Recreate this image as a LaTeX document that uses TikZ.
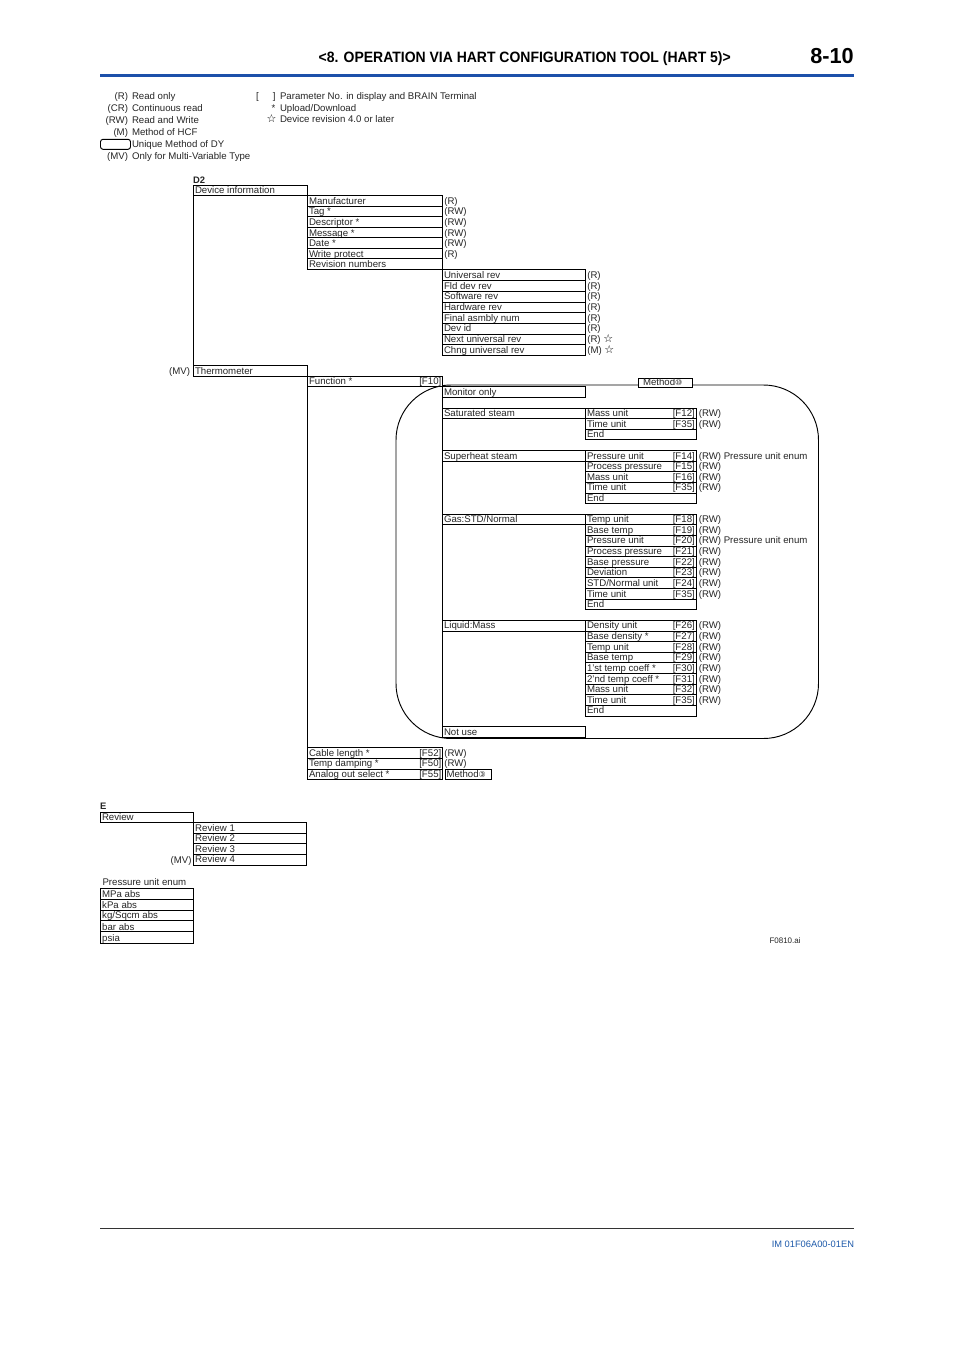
\documentclass[tikz,border=0pt]{standalone}
\usepackage{fontspec}
\setmainfont{Liberation Sans}
\newfontfamily\symfont{DejaVu Sans}
\definecolor{ruleblue}{RGB}{28,80,170}
\definecolor{imblue}{RGB}{30,90,170}
\newcommand\txt{\fontsize{9.65}{11}\selectfont}
\newcommand\starmark{{\symfont\fontsize{11}{10}\selectfont\color{black}☆}}
\newcommand\circnum[1]{{\symfont\fontsize{8}{10}\selectfont #1}}
\gdef\ty{0}
\gdef\ngap{1.8}
\newcommand\tdown{\gdef\ty{1}}
\newcommand\tlift{\gdef\ty{-1}}
% #1 name, #2 x1, #3 y1, #4 x2, #5 y2, #6 text, #7 tag, #8 note
\newcommand\cell[8]{%
  \node[cellbox,minimum width={(#4-#2)*1pt},minimum height={(#5-#3)*1pt}] (#1) at (#2,#3) {};
  \node[lbl] (#1-t) at (#2+1.5,#5-2.2+\ty) {#6};
  \if\relax\detokenize{#7}\relax\else\node[tag] (#1-f) at (#4-1.2,#5-2.2+\ty) {#7};\fi
  \if\relax\detokenize{#8}\relax\else\node[lbl] (#1-n) at (#4+\ngap,#5-2.2+\ty) {#8};\fi
  \gdef\ty{0}%
}
\begin{document}
\begin{tikzpicture}[x=1pt,y=-1pt,
  cellbox/.style={draw=black,line width=0.95pt,fill=white,rectangle,anchor=north west,inner sep=0pt,outer sep=0pt},
  lbl/.style={anchor=base west,inner sep=0pt,outer sep=0pt,font=\txt,text=black!85},
  tag/.style={anchor=base east,inner sep=0pt,outer sep=0pt,font=\txt,text=black!85},
  rule/.style={line width=0.95pt,black}]
\useasboundingbox (0,0) rectangle (954,1350);
\fill[white] (0,0) rectangle (954,1350);
% header
\node[anchor=base east,inner sep=0,xscale=0.932,font=\fontsize{15}{16}\selectfont\bfseries] (title) at (731,62) {<8. OPERATION VIA HART CONFIGURATION TOOL (HART 5)>};
\node[anchor=base east,inner sep=0,font=\fontsize{21.7}{24}\selectfont\bfseries] (pageno) at (854,63.5) {8-10};
\coordinate (bl1) at (100,75.3); \coordinate (br1) at (854,75.3);
\draw[ruleblue,line width=3pt] (bl1) -- (br1);
\coordinate (bl2) at (100,1228); \coordinate (br2) at (854,1228);
\draw[black!80,line width=0.7pt] (bl2) -- (br2);
\node[tag,font=\fontsize{9.3}{11}\selectfont,text=imblue] (docid) at (854,1247) {IM 01F06A00-01EN};
\node[lbl,font=\fontsize{8}{9}\selectfont] (fig) at (769.5,943) {F0810.ai};
% legend
\node[tag] (lg1) at (128,99.5) {(R)};   \node[lbl] (lg1t) at (132,99.5) {Read only};
\node[tag] (lg2) at (128,111.5) {(CR)}; \node[lbl] (lg2t) at (132,111.5) {Continuous read};
\node[tag] (lg3) at (128,123.5) {(RW)}; \node[lbl] (lg3t) at (132,123.5) {Read and Write};
\node[tag] (lg4) at (128,135.5) {(M)};  \node[lbl] (lg4t) at (132,135.5) {Method of HCF};
\node[draw=black,line width=0.95pt,rounded corners=2.5pt,anchor=north west,inner sep=0,outer sep=0,minimum width=30pt,minimum height=10pt] (lg5) at (100.5,139.3) {};
\node[lbl] (lg5t) at (132,147.5) {Unique Method of DY};
\node[tag] (lg6) at (128,159.5) {(MV)}; \node[lbl] (lg6t) at (132,159.5) {Only for Multi-Variable Type};
\node[lbl] (lr1a) at (256,99.5) {[};
\node[tag] (lr1b) at (275.5,99.5) {]};
\node[lbl] (lr1t) at (280,99.5) {Parameter No. in display and BRAIN Terminal};
\node[tag] (lr2) at (275.5,111) {*};
\node[lbl] (lr2t) at (280,111) {Upload/Download};
\node[tag] (lr3) at (276.5,122.5) {\starmark};
\node[lbl] (lr3t) at (280,122.5) {Device revision 4.0 or later};
% method region
\node[draw=black,line width=0.95pt,rounded corners=55pt,anchor=north west,inner sep=0,outer sep=0,minimum width=422.5pt,minimum height=353.5pt] (region) at (396,385) {};
% D2
\node[lbl,font=\fontsize{9.4}{11}\selectfont\bfseries] (d2) at (193,183) {D2};
\cell{dev}{193.5}{185}{307.5}{195.2}{Device information}{}{}
\tdown\cell{mfr}{307.5}{195.5}{442.5}{206}{Manufacturer}{}{(R)}
\cell{tagr}{307.5}{206}{442.5}{216.6}{Tag *}{}{(RW)}
\cell{desc}{307.5}{216.6}{442.5}{227.2}{Descriptor *}{}{(RW)}
\tdown\cell{msg}{307.5}{227.2}{442.5}{237.8}{Message *}{}{(RW)}
\cell{date}{307.5}{237.8}{442.5}{248.3}{Date *}{}{(RW)}
\tdown\cell{wp}{307.5}{248.3}{442.5}{258.9}{Write protect}{}{(R)}
\cell{rev}{307.5}{258.9}{442.5}{269.8}{Revision numbers}{}{}
\cell{u1}{442.5}{269.8}{585.5}{280.7}{Universal rev}{}{(R)}
\cell{u2}{442.5}{280.7}{585.5}{291.3}{Fld dev rev}{}{(R)}
\cell{u3}{442.5}{291.3}{585.5}{302}{Software rev}{}{(R)}
\cell{u4}{442.5}{302}{585.5}{312.7}{Hardware rev}{}{(R)}
\cell{u5}{442.5}{312.7}{585.5}{323.3}{Final asmbly num}{}{(R)}
\cell{u6}{442.5}{323.3}{585.5}{334}{Dev id}{}{(R)}
\cell{u7}{442.5}{334}{585.5}{344.7}{Next universal rev}{}{(R) \starmark}
\cell{u8}{442.5}{344.7}{585.5}{355.3}{Chng universal rev}{}{(M) \starmark}
\tdown\cell{thermo}{193.5}{365.7}{307.5}{376}{Thermometer}{}{}
\node[tag] (mv1) at (190,374) {(MV)};
\cell{func}{307.5}{376}{442.5}{386.6}{Function *}{[F10]}{}
\cell{monitor}{442.5}{386.6}{585.5}{397.3}{Monitor only}{}{}
\node[cellbox,minimum width=54pt,minimum height=9.5pt] (methodA) at (638.5,378) {};
\node[lbl] (methodAt) at (643,385) {Method\circnum{⑩}};
\gdef\ngap{2.8}
% Saturated
\cell{sat}{442.5}{408.3}{585.5}{418.7}{Saturated steam}{}{}
\cell{s1}{585.5}{408.3}{696}{418.7}{Mass unit}{[F12]}{(RW)}
\cell{s2}{585.5}{418.7}{696}{429.7}{Time unit}{[F35]}{(RW)}
\cell{s3}{585.5}{429.7}{696}{439.5}{End}{}{}
% Superheat
\cell{sup}{442.5}{450.7}{585.5}{461.3}{Superheat steam}{}{}
\cell{h1}{585.5}{450.7}{696}{461.3}{Pressure unit}{[F14]}{(RW) Pressure unit enum}
\cell{h2}{585.5}{461.3}{696}{471.7}{Process pressure}{[F15]}{(RW)}
\cell{h3}{585.5}{471.7}{696}{482.3}{Mass unit}{[F16]}{(RW)}
\cell{h4}{585.5}{482.3}{696}{493}{Time unit}{[F35]}{(RW)}
\cell{h5}{585.5}{493}{696}{503.7}{End}{}{}
% Gas
\cell{gas}{442.5}{514.3}{585.5}{524.7}{Gas:STD/Normal}{}{}
\cell{g1}{585.5}{514.3}{696}{524.7}{Temp unit}{[F18]}{(RW)}
\tdown\cell{g2}{585.5}{524.7}{696}{535}{Base temp}{[F19]}{(RW)}
\cell{g3}{585.5}{535}{696}{546}{Pressure unit}{[F20]}{(RW) Pressure unit enum}
\cell{g4}{585.5}{546}{696}{556.3}{Process pressure}{[F21]}{(RW)}
\cell{g5}{585.5}{556.3}{696}{567.3}{Base pressure}{[F22]}{(RW)}
\cell{g6}{585.5}{567.3}{696}{577.7}{Deviation}{[F23]}{(RW)}
\cell{g7}{585.5}{577.7}{696}{588.7}{STD/Normal unit}{[F24]}{(RW)}
\tdown\cell{g8}{585.5}{588.7}{696}{599}{Time unit}{[F35]}{(RW)}
\cell{g9}{585.5}{599}{696}{609.3}{End}{}{}
% Liquid
\tlift\cell{liq}{442.5}{620.3}{585.5}{631.3}{Liquid:Mass}{}{}
\tlift\cell{q1}{585.5}{620.3}{696}{631.3}{Density unit}{[F26]}{(RW)}
\cell{q2}{585.5}{631.3}{696}{641.3}{Base density *}{[F27]}{(RW)}
\tdown\cell{q3}{585.5}{641.3}{696}{652}{Temp unit}{[F28]}{(RW)}
\cell{q4}{585.5}{652}{696}{662.3}{Base temp}{[F29]}{(RW)}
\cell{q5}{585.5}{662.3}{696}{673.3}{1'st temp coeff *}{[F30]}{(RW)}
\tdown\cell{q6}{585.5}{673.3}{696}{684}{2'nd temp coeff *}{[F31]}{(RW)}
\cell{q7}{585.5}{684}{696}{694.7}{Mass unit}{[F32]}{(RW)}
\cell{q8}{585.5}{694.7}{696}{705.3}{Time unit}{[F35]}{(RW)}
\tlift\cell{q9}{585.5}{705.3}{696}{716.3}{End}{}{}
\cell{notuse}{442.5}{726.3}{585.5}{737.3}{Not use}{}{}
% bottom rows
\gdef\ngap{1.8}
\cell{cable}{307.5}{747.7}{442.5}{758.3}{Cable length *}{[F52]}{(RW)}
\cell{damp}{307.5}{758.3}{442.5}{769}{Temp damping *}{[F50]}{(RW)}
\cell{aout}{307.5}{769}{442.5}{779.5}{Analog out select *}{[F55]}{}
\node[cellbox,minimum width=46pt,minimum height=10.5pt] (methodB) at (445,769) {};
\node[lbl] (methodBt) at (446.5,777.3) {Method\circnum{③}};
% spines
\draw[rule] (dev.south west) -- (thermo.north west);
\draw[rule] (func.south west) -- (cable.north west);
\draw[rule] (monitor.south west) -- (notuse.north west);
% E
\node[lbl,font=\fontsize{9.4}{11}\selectfont\bfseries] (e) at (100,809.5) {E};
\cell{review}{100.5}{812}{193.7}{822.3}{Review}{}{}
\cell{r1}{193.7}{822.3}{306.7}{833.3}{Review 1}{}{}
\cell{r2}{193.7}{833.3}{306.7}{843.7}{Review 2}{}{}
\cell{r3}{193.7}{843.7}{306.7}{854.3}{Review 3}{}{}
\cell{r4}{193.7}{854.3}{306.7}{865}{Review 4}{}{}
\node[tag] (mv2) at (191.5,863) {(MV)};
% Enum
\node[lbl] (enumt) at (102.5,885.5) {Pressure unit enum};
\cell{p1}{100.7}{888.7}{193.7}{899.7}{MPa abs}{}{}
\cell{p2}{100.7}{899.7}{193.7}{910.3}{kPa abs}{}{}
\cell{p3}{100.7}{910.3}{193.7}{920.7}{kg/Sqcm abs}{}{}
\tdown\cell{p4}{100.7}{920.7}{193.7}{931.7}{bar abs}{}{}
\tdown\cell{p5}{100.7}{931.7}{193.7}{943}{psia}{}{}
\end{tikzpicture}
\end{document}
